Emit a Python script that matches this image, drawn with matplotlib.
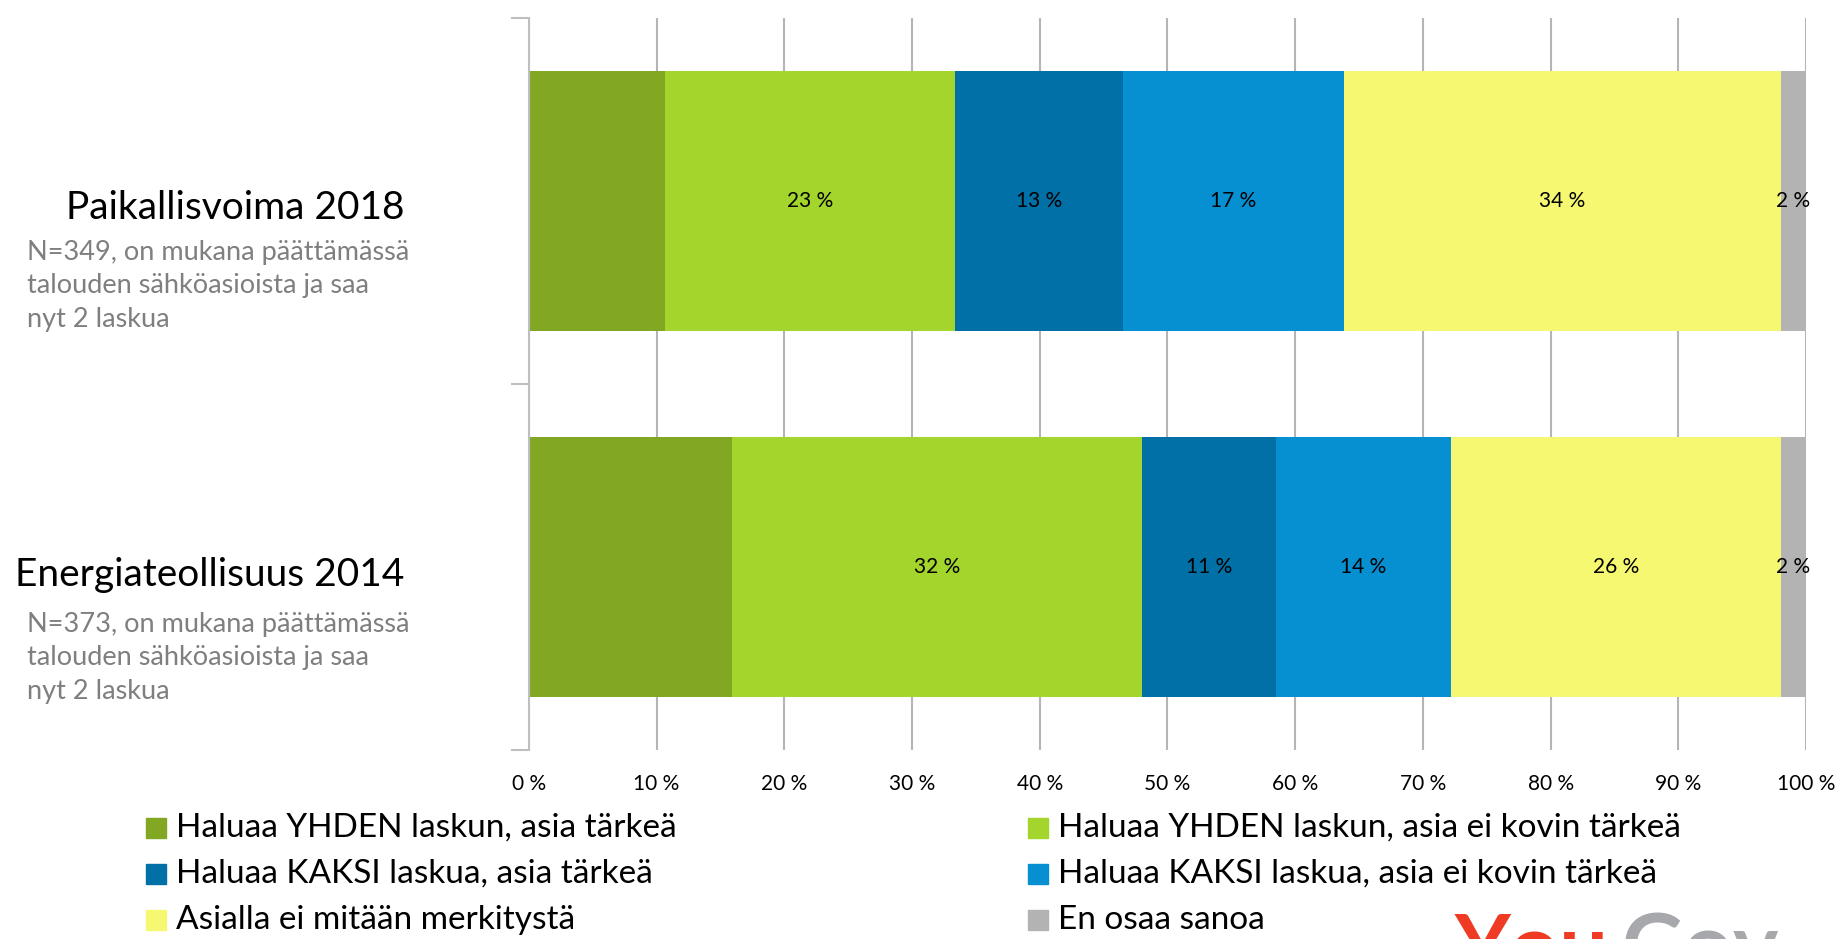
import numpy as np
import matplotlib
matplotlib.use("Agg")
import matplotlib.pyplot as plt
from matplotlib.patches import Rectangle

plt.rcParams['font.family'] = ['Lato', 'DejaVu Sans']

# data
groups = ["Paikallisvoima 2018", "Energiateollisuus 2014"]
group_notes = ["N=349, on mukana päättämässä\ntalouden sähköasioista ja saa\nnyt 2 laskua",
               "N=373, on mukana päättämässä\ntalouden sähköasioista ja saa\nnyt 2 laskua"]
series = ["Haluaa YHDEN laskun, asia tärkeä",
          "Haluaa YHDEN laskun, asia ei kovin tärkeä",
          "Haluaa KAKSI laskua, asia tärkeä",
          "Haluaa KAKSI laskua, asia ei kovin tärkeä",
          "Asialla ei mitään merkitystä",
          "En osaa sanoa"]
values = np.array([
    [10.7, 22.7, 13.1, 17.3, 34.2, 2.0],
    [15.9, 32.1, 10.5, 13.7, 25.8, 2.0],
])
labels = [
    ["", "23 %", "13 %", "17 %", "34 %", "2 %"],
    ["", "32 %", "11 %", "14 %", "26 %", "2 %"],
]
colors = ["#82a823", "#a3d52d", "#0070a6", "#068fd1", "#f6f871", "#b3b3b3"]
xticks = np.arange(0, 101, 10)

fig = plt.figure(figsize=(18.38, 9.39), dpi=100)
ax = fig.add_axes((0.2877, 0.2013, 0.695, 0.780))

y = np.arange(len(groups))
left = np.zeros(len(groups))
for j, name in enumerate(series):
    bars = ax.barh(y, values[:, j], left=left, height=0.71, color=colors[j],
                   edgecolor='none', zorder=2)
    for i, b in enumerate(bars):
        if labels[i][j]:
            ax.text(left[i] + values[i, j] / 2, y[i], labels[i][j],
                    ha='center', va='center', fontsize=15, color='black', zorder=3)
    left += values[:, j]

ax.set_xlim(0, 100)
ax.set_ylim(1.5, -0.5)
ax.set_xticks(xticks)
ax.set_xticklabels(["%d %%" % v for v in xticks], fontsize=15)
ax.tick_params(axis='x', length=0, pad=17)
ax.set_yticks([-0.5, 0.5, 1.5])
ax.set_yticklabels([])
ax.tick_params(axis='y', length=13, width=1.5, color='#bfbfbf')
ax.grid(axis='x', color='#b5b5b5', linewidth=1.5, zorder=0)
for s in ['top', 'right', 'bottom']:
    ax.spines[s].set_visible(False)
ax.spines['left'].set_color('#bfbfbf')
ax.spines['left'].set_linewidth(1.5)

# group labels
label_y = [208, 575]
note_y = [240, 612]
for i, g in enumerate(groups):
    fig.text(404 / 1838, 1 - label_y[i] / 939, g, ha='right', va='center',
             fontsize=28, color='black')
    fig.text(27 / 1838, 1 - note_y[i] / 939, group_notes[i], ha='left', va='top',
             fontsize=19.5, color='#7f7f7f', linespacing=1.42)

# legend, two columns
col_x = [146, 1028]
row_y = [828, 874, 920]
for j, name in enumerate(series):
    cx = col_x[j % 2]
    cy = row_y[j // 2]
    fig.patches.append(Rectangle((cx / 1838, 1 - (cy + 10) / 939), 20 / 1838, 20 / 939,
                                 transform=fig.transFigure, color=colors[j]))
    fig.text((cx + 30) / 1838, 1 - cy / 939, name, ha='left', va='center',
             fontsize=24, color='black')

# logo, cut by the bottom edge as in the source
fig.text(1455 / 1838, 1 - 912 / 939, "You", ha='left', va='top', fontsize=62,
         fontweight='bold', color='#ef3a24')
fig.text(1622 / 1838, 1 - 912 / 939, "Gov", ha='left', va='top', fontsize=62,
         fontweight='bold', color='#a6a8ab')

fig.savefig("out.png", dpi=100)
